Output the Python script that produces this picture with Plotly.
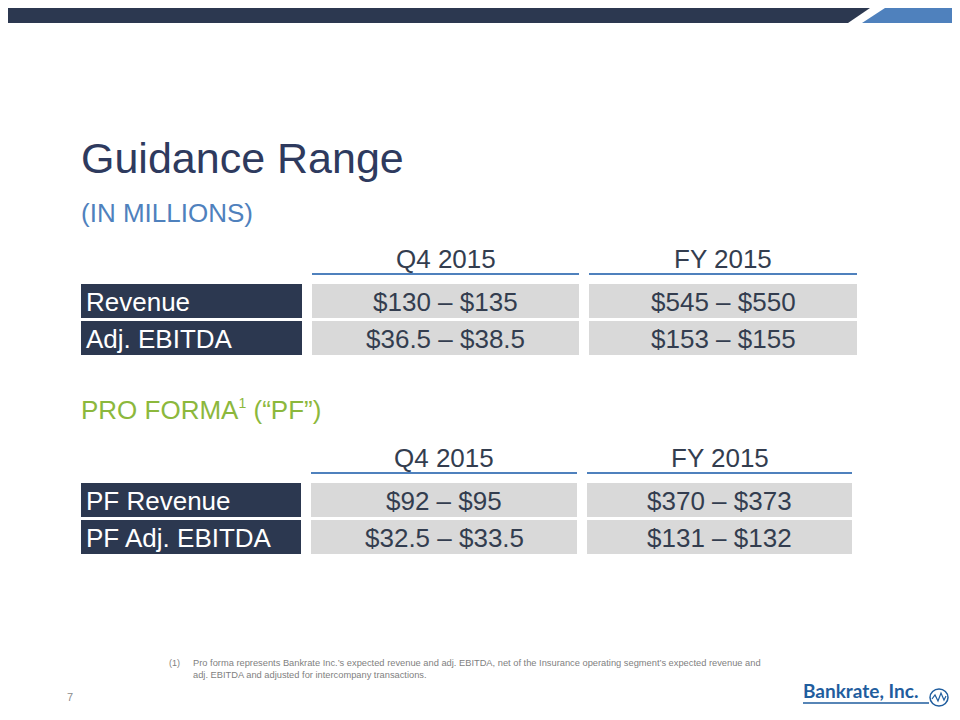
"""
Guidance range slide rebuilt with plotly shapes and annotations.
"""

import plotly.graph_objects as go

# Data
periods = ["Q4 2015", "FY 2015"]

guidance_labels = ["Revenue", "Adj. EBITDA"]
guidance_q4_low = [130, 36.5]
guidance_q4_high = [135, 38.5]
guidance_fy_low = [545, 153]
guidance_fy_high = [550, 155]

pf_labels = ["PF Revenue", "PF Adj. EBITDA"]
pf_q4_low = [92, 32.5]
pf_q4_high = [95, 33.5]
pf_fy_low = [370, 131]
pf_fy_high = [373, 132]

footnote = ("Pro forma represents Bankrate Inc.\u2019s expected revenue and adj. EBITDA, net of the "
            "Insurance operating segment\u2019s expected revenue and<br>adj. EBITDA and adjusted "
            "for intercompany transactions.")

# Colours
NAVY = "#2C3850"
BLUE = "#4F81BD"
GREEN = "#8CB83C"
GREY_CELL = "#D9D9D9"
TEXT_DARK = "#333D4F"
FONT = "Arial, Liberation Sans, sans-serif"

# The page body keeps an 8px margin, so the figure is offset by that much
OFFSET = 8


def rng(low, high):
    return f"${low:g} \u2013 ${high:g}"


fig = go.Figure()
shapes = []
annotations = []

# Top banner
shapes.append(dict(type="path", path="M 0 8 L 870 8 L 848 23 L 0 23 Z",
                   fillcolor=NAVY, line=dict(width=0)))
shapes.append(dict(type="path", path="M 885 8 L 960 8 L 960 23 L 862 23 Z",
                   fillcolor=BLUE, line=dict(width=0)))

# Titles
annotations.append(dict(x=79, y=158, text="Guidance Range", xanchor="left", yanchor="middle",
                        font=dict(size=43, color="#2E3A5E", family=FONT)))
annotations.append(dict(x=79, y=213, text="(IN MILLIONS)", xanchor="left", yanchor="middle",
                        font=dict(size=26, color=BLUE, family=FONT)))
annotations.append(dict(x=79, y=410,
                        text="PRO FORMA<sup><span style='font-size:14px'>1</span></sup> (\u201cPF\u201d)",
                        xanchor="left", yanchor="middle",
                        font=dict(size=26, color=GREEN, family=FONT)))


def add_table(top, labels, q4_low, q4_high, fy_low, fy_high, cols, label_right):
    """
    Draws a header row with underlines and two value rows.
    """
    header_y = top
    line_y = top + 15
    row_tops = [top + 25, top + 62]
    row_h = 34

    for (x0, x1), period in zip(cols, periods):
        annotations.append(dict(x=(x0 + x1) / 2, y=header_y, text=period, xanchor="center",
                                yanchor="middle", font=dict(size=26, color=TEXT_DARK, family=FONT)))
        shapes.append(dict(type="line", x0=x0, x1=x1, y0=line_y, y1=line_y,
                           line=dict(color=BLUE, width=2)))

    values = [[rng(l, h) for l, h in zip(q4_low, q4_high)],
              [rng(l, h) for l, h in zip(fy_low, fy_high)]]

    for i, label in enumerate(labels):
        y0 = row_tops[i]
        y1 = y0 + row_h
        shapes.append(dict(type="rect", x0=81, x1=label_right, y0=y0, y1=y1,
                           fillcolor=NAVY, line=dict(width=0)))
        annotations.append(dict(x=84, y=(y0 + y1) / 2 + 1, text=label, xanchor="left",
                                yanchor="middle", font=dict(size=26, color="white", family=FONT)))
        for c, (x0, x1) in enumerate(cols):
            shapes.append(dict(type="rect", x0=x0, x1=x1, y0=y0, y1=y1,
                               fillcolor=GREY_CELL, line=dict(width=0)))
            annotations.append(dict(x=(x0 + x1) / 2, y=(y0 + y1) / 2 + 1, text=values[c][i],
                                    xanchor="center", yanchor="middle",
                                    font=dict(size=26, color=TEXT_DARK, family=FONT)))


add_table(259, guidance_labels, guidance_q4_low, guidance_q4_high,
          guidance_fy_low, guidance_fy_high, [(312, 579), (589, 857)], 302)
add_table(458, pf_labels, pf_q4_low, pf_q4_high,
          pf_fy_low, pf_fy_high, [(311, 577), (587, 852)], 301)

# Footnote
annotations.append(dict(x=167, y=663, text="(1)", xanchor="left", yanchor="middle",
                        font=dict(size=9, color="#7F7F7F", family=FONT)))
annotations.append(dict(x=191, y=669, text=footnote, xanchor="left", yanchor="middle", align="left",
                        font=dict(size=9.3, color="#7F7F7F", family=FONT)))

# Page number
annotations.append(dict(x=70, y=697, text="7", xanchor="center", yanchor="middle",
                        font=dict(size=11, color="#8C8C8C", family=FONT)))

# Logo
annotations.append(dict(x=801, y=690, text="<b>Bankrate, Inc.</b>", xanchor="left", yanchor="middle",
                        font=dict(size=19, color="#1F5D9E", family="Lato, Arial, sans-serif")))
shapes.append(dict(type="line", x0=803, x1=929, y0=703, y1=703,
                   line=dict(color="#1F5D9E", width=1.5)))
shapes.append(dict(type="circle", x0=930, x1=948, y0=689, y1=706,
                   line=dict(color="#1F5D9E", width=1.5)))
shapes.append(dict(type="path", path="M 932 699 L 935 695 L 938 701 L 941 693 L 944 700 L 946 696",
                   line=dict(color="#1F5D9E", width=1.2)))

for s in shapes:
    s.setdefault("xref", "x")
    s.setdefault("yref", "y")
    s.setdefault("layer", "below")
for a in annotations:
    a.setdefault("xref", "x")
    a.setdefault("yref", "y")
    a.setdefault("showarrow", False)

fig.update_layout(width=960 - OFFSET, height=720 - OFFSET,
                  margin=dict(l=0, r=0, t=0, b=0),
                  paper_bgcolor="white", plot_bgcolor="white",
                  shapes=shapes, annotations=annotations,
                  xaxis=dict(range=[OFFSET, 960], visible=False, fixedrange=True),
                  yaxis=dict(range=[720, OFFSET], visible=False, fixedrange=True),
                  showlegend=False)

fig.write_html("out.html")
